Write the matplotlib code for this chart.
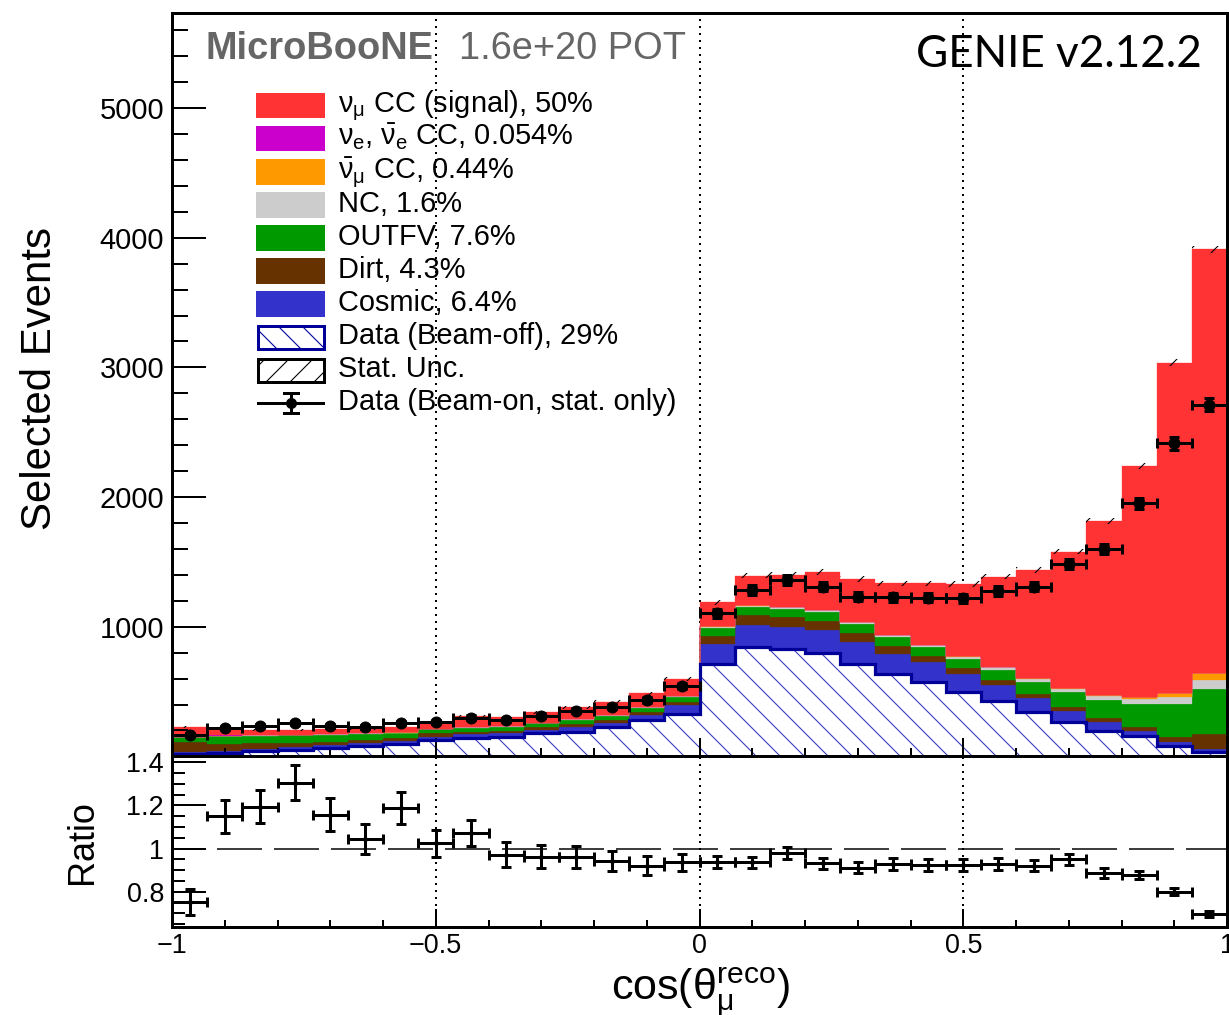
import numpy as np
import matplotlib
matplotlib.use("Agg")
import matplotlib.pyplot as plt
from matplotlib.ticker import FixedLocator, MultipleLocator, FuncFormatter
from matplotlib.patches import Rectangle
from matplotlib.lines import Line2D

plt.rcParams['font.family'] = ['Liberation Sans', 'DejaVu Sans']
plt.rcParams['mathtext.fontset'] = 'custom'
plt.rcParams['mathtext.rm'] = 'Liberation Sans'
plt.rcParams['mathtext.it'] = 'Liberation Sans:italic'
plt.rcParams['mathtext.bf'] = 'Liberation Sans:bold'
plt.rcParams['mathtext.default'] = 'regular'
plt.rcParams['hatch.linewidth'] = 1.1

# ---------------- data ----------------
bin_edges = np.linspace(-1.0, 1.0, 31)

beam_off = [22, 25, 40, 50, 62, 82, 96, 125, 145, 148, 178, 190, 228, 280, 325,
            711, 842, 829, 796, 711, 634, 577, 500, 426, 345, 266, 197, 158, 80, 37]
cosmic = [13, 15, 15, 22, 26, 23, 24, 28, 28, 31, 26, 40, 33, 40, 72,
          156, 172, 172, 179, 174, 159, 149, 136, 123, 108, 85, 71, 37, 32, 18]
dirt = [77, 55, 45, 35, 26, 22, 20, 26, 18, 18, 21, 20, 20, 21, 26,
        62, 77, 72, 70, 70, 59, 49, 46, 41, 26, 33, 31, 31, 41, 118]
outfv = [36, 60, 58, 56, 54, 46, 40, 30, 31, 33, 31, 31, 34, 31, 33,
         59, 59, 64, 72, 67, 72, 67, 72, 77, 98, 111, 137, 179, 252, 347]
nc = [4, 5, 4, 4, 4, 4, 4, 4, 4, 4, 4, 4, 5, 6, 6,
      12, 12, 12, 12, 12, 10, 14, 14, 21, 23, 25, 33, 39, 56, 70]
numubar_cc = [1, 1, 1, 1, 1, 1, 1, 1, 1, 1, 1, 1, 1, 1, 1,
              2, 2, 2, 2, 3, 3, 3, 4, 4, 4, 8, 4, 11, 26, 51]
nue_cc = [0.2, 0.2, 0.2, 0.2, 0.2, 0.2, 0.2, 0.2, 0.2, 0.2, 0.2, 0.2, 0.2, 0.2, 0.3,
          0.5, 0.5, 0.5, 0.5, 0.5, 0.5, 0.5, 0.5, 0.5, 0.5, 0.5, 0.5, 0.5, 0.5, 0.5]
numu_cc_signal = [72, 39, 39, 37, 35, 37, 40, 51, 83, 65, 79, 92, 101, 108, 132,
                  187, 230, 251, 289, 332, 398, 476, 558, 694, 834, 1051, 1345, 1785, 2549, 3270]
mc_stat_unc = [8, 8, 8, 8, 8, 8, 8, 9, 9, 9, 10, 10, 11, 12, 14,
               20, 21, 21, 21, 21, 21, 21, 21, 21, 22, 22, 23, 24, 26, 28]

data_beam_on = [166, 222, 237, 260, 235, 224, 260, 268, 299, 281, 315, 351, 384, 436, 544,
                1104, 1284, 1361, 1309, 1232, 1227, 1225, 1220, 1276, 1309, 1482, 1600, 1952, 2415, 2713]
ratio = [0.753, 1.149, 1.195, 1.304, 1.157, 1.044, 1.188, 1.025, 1.072, 0.971, 0.963, 0.960, 0.943, 0.921, 0.937,
         0.937, 0.937, 0.979, 0.932, 0.912, 0.929, 0.924, 0.924, 0.929, 0.921, 0.951, 0.886, 0.878, 0.800, 0.698]

legend_labels = [r'$\nu_{\mu}$ CC (signal), 50%',
                 r'$\nu_{e}$, $\bar{\nu}_{e}$ CC, 0.054%',
                 r'$\bar{\nu}_{\mu}$ CC, 0.44%',
                 'NC, 1.6%', 'OUTFV, 7.6%', 'Dirt, 4.3%', 'Cosmic, 6.4%',
                 'Data (Beam-off), 29%', 'Stat. Unc.', 'Data (Beam-on, stat. only)']

C_SIGNAL = '#ff3333'
C_NUE = '#cc00cc'
C_NUMUBAR = '#ff9900'
C_NC = '#cccccc'
C_OUTFV = '#009900'
C_DIRT = '#663300'
C_COSMIC = '#3333cc'
C_BEAMOFF_HATCH = '#3a3ac4'
C_BEAMOFF_LINE = '#000099'

# ---------------- figure ----------------
W, H = 1229, 1015
DPI = 72
fig = plt.figure(figsize=(W / DPI, H / DPI), dpi=DPI)


def fx(x):
    return x / W


def fy(y):
    return 1 - y / H


AX_L, AX_R = 172, 1227
MAIN_T, MAIN_B = 13, 756.4
RAT_B = 927

ax = fig.add_axes([fx(AX_L), fy(MAIN_B), (AX_R - AX_L) / W, (MAIN_B - MAIN_T) / H])
axr = fig.add_axes([fx(AX_L), fy(RAT_B), (AX_R - AX_L) / W, (RAT_B - MAIN_B) / H], sharex=ax)

edges = bin_edges
centers = 0.5 * (edges[:-1] + edges[1:])
half_w = 0.5 * (edges[1] - edges[0])

# stacked histogram
bo = np.array(beam_off, dtype=float)
ax.stairs(bo, edges, baseline=0, fill=True, facecolor='white',
          edgecolor=C_BEAMOFF_HATCH, hatch='\\', linewidth=0, zorder=1)
base = bo.copy()
for vals, col in [(cosmic, C_COSMIC), (dirt, C_DIRT), (outfv, C_OUTFV), (nc, C_NC),
                  (numubar_cc, C_NUMUBAR), (nue_cc, C_NUE), (numu_cc_signal, C_SIGNAL)]:
    top = base + np.array(vals, dtype=float)
    ax.stairs(top, edges, baseline=base, fill=True, facecolor=col, edgecolor=col,
              linewidth=0.3, zorder=1)
    base = top
total = base
ax.stairs(bo, edges, baseline=None, color=C_BEAMOFF_LINE, linewidth=3.2, zorder=1.6)

unc = np.array(mc_stat_unc, dtype=float)
ax.stairs(total + unc, edges, baseline=total - unc, fill=True, facecolor='none',
          edgecolor='black', hatch='/', linewidth=0, zorder=1.7)

d = np.array(data_beam_on, dtype=float)
ax.errorbar(centers, d, xerr=half_w, yerr=np.sqrt(d), fmt='o', color='black',
            markersize=11, elinewidth=3, capsize=5, capthick=3, zorder=3)

for xv in (-0.5, 0.0, 0.5):
    ax.axvline(xv, color='black', linewidth=2, linestyle=(0, (1, 2.5)), zorder=0.5)
    axr.axvline(xv, color='black', linewidth=2, linestyle=(0, (1, 2.5)), zorder=1)

ax.set_xlim(-1, 1)
ax.set_ylim(0, 5733)

# ratio panel
r = np.array(ratio)
axr.axhline(1.0, color='black', linewidth=1.5, linestyle=(8, (30, 8)), zorder=1)
axr.errorbar(centers, r, xerr=half_w, yerr=r / np.sqrt(d), fmt='o', color='black',
             markersize=4, elinewidth=3, capsize=5, capthick=3, zorder=3)
axr.set_ylim(0.637, 1.427)

# ---------------- axes styling ----------------
for a in (ax, axr):
    for s in a.spines.values():
        s.set_linewidth(3)
    a.tick_params(which='both', direction='in', top=False, right=False, width=2, colors='black')

ax.xaxis.set_major_locator(FixedLocator([-1, -0.5, 0, 0.5, 1]))
ax.xaxis.set_minor_locator(MultipleLocator(0.1))
ax.yaxis.set_major_locator(FixedLocator([0, 1000, 2000, 3000, 4000, 5000]))
ax.yaxis.set_minor_locator(MultipleLocator(200))
ax.yaxis.set_major_formatter(FuncFormatter(lambda v, p: '' if v == 0 else f'{v:g}'))
ax.tick_params(axis='x', which='major', length=18, labelbottom=False)
ax.tick_params(axis='x', which='minor', length=8)
ax.tick_params(axis='y', which='major', length=34, labelsize=29, pad=8)
ax.tick_params(axis='y', which='minor', length=16)

axr.yaxis.set_major_locator(FixedLocator([0.8, 1.0, 1.2, 1.4]))
axr.yaxis.set_minor_locator(MultipleLocator(0.05))
axr.yaxis.set_major_formatter(FuncFormatter(lambda v, p: f'{v:g}'))
axr.xaxis.set_major_formatter(FuncFormatter(lambda v, p: f'{v:g}'.replace('-', '\u2212')))
axr.tick_params(axis='x', which='major', length=18, labelsize=27, pad=6)
axr.tick_params(axis='x', which='minor', length=7)
axr.tick_params(axis='y', which='major', length=34, labelsize=27, pad=8)
axr.tick_params(axis='y', which='minor', length=13)

# ---------------- texts ----------------
fig.text(fx(40), fy(378), 'Selected Events', rotation=90, ha='center', va='center', fontsize=42)
fig.text(fx(83), fy(842), 'Ratio', rotation=90, ha='center', va='center', fontsize=36)
fig.text(fx(700), fy(1000), r'cos($\theta_{\mu}^{reco}$)', ha='center', va='baseline', fontsize=43)

fig.text(fx(206), fy(59.3), 'MicroBooNE', fontsize=38, fontweight='bold', color='#666666',
         ha='left', va='baseline')
fig.text(fx(459), fy(59.3), '1.6e+20 POT', fontsize=38, color='#666666', ha='left', va='baseline')
fig.text(fx(1202), fy(66.7), 'GENIE v2.12.2', fontsize=44, family=['Lato', 'DejaVu Sans'],
         color='black', ha='right', va='baseline')

# ---------------- legend (manual) ----------------
box_x0, box_w, box_h = 256, 69, 25.7
first_center, row_dy = 105.5, 33.1
fills = [C_SIGNAL, C_NUE, C_NUMUBAR, C_NC, C_OUTFV, C_DIRT, C_COSMIC]
for i, lab in enumerate(legend_labels):
    c = first_center + row_dy * i
    y_top = c - box_h / 2
    if i < 7:
        fig.add_artist(Rectangle((fx(box_x0), fy(y_top + box_h)), box_w / W, box_h / H,
                                 transform=fig.transFigure, facecolor=fills[i],
                                 edgecolor=fills[i], linewidth=0))
    elif i == 7:
        fig.add_artist(Rectangle((fx(box_x0 + 1.5), fy(y_top + box_h - 1.5)), (box_w - 3) / W,
                                 (box_h - 3) / H, transform=fig.transFigure, facecolor='white',
                                 edgecolor=C_BEAMOFF_LINE, hatch='\\', linewidth=3))
    elif i == 8:
        fig.add_artist(Rectangle((fx(box_x0 + 1.5), fy(y_top + box_h - 1.5)), (box_w - 3) / W,
                                 (box_h - 3) / H, transform=fig.transFigure, facecolor='white',
                                 edgecolor='black', hatch='/', linewidth=3))
    else:
        xm = 290.5
        fig.add_artist(Line2D([fx(258), fx(323)], [fy(c), fy(c)], transform=fig.transFigure,
                              color='black', linewidth=3))
        fig.add_artist(Line2D([fx(xm), fx(xm)], [fy(c - 10), fy(c + 10)], transform=fig.transFigure,
                              color='black', linewidth=3))
        for yy in (c - 10, c + 10):
            fig.add_artist(Line2D([fx(xm - 7), fx(xm + 7)], [fy(yy), fy(yy)],
                                  transform=fig.transFigure, color='black', linewidth=3))
        fig.add_artist(Line2D([fx(xm)], [fy(c)], transform=fig.transFigure, marker='o',
                              markersize=10, color='black'))
    fig.text(fx(338), fy(c + 7), lab, fontsize=29, ha='left', va='baseline')

fig.savefig('out.png', dpi=DPI)
